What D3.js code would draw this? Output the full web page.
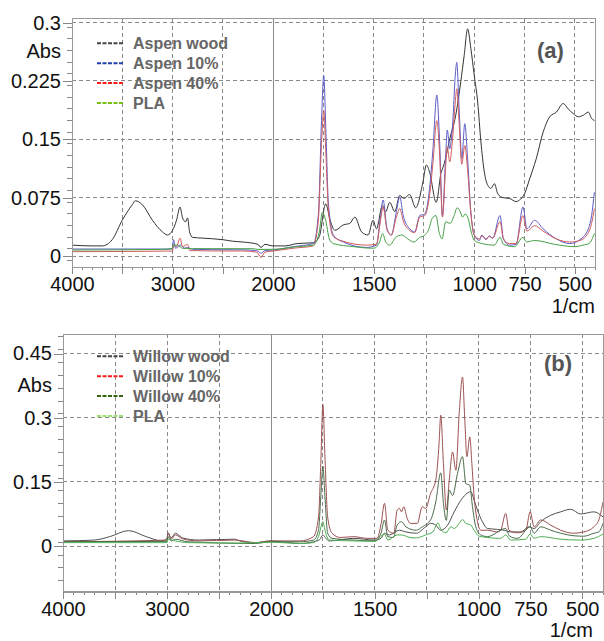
<!DOCTYPE html>
<html>
<head>
<meta charset="utf-8">
<script src="https://cdn.jsdelivr.net/npm/d3@7"></script>
<style>
  body { margin: 0; background: #fff; }
  text { font-family: "Liberation Sans", Arial, sans-serif; }
</style>
</head>
<body>
<script>
// FTIR spectra, [wavenumber (1/cm), absorbance]
var aspenWood = [[4000,0.014],[3800,0.013],[3700,0.013],[3600,0.021],[3500,0.046],[3400,0.066],[3370,0.071],[3300,0.066],[3200,0.046],[3100,0.031],[3050,0.027],[3000,0.033],[2960,0.046],[2925,0.063],[2900,0.049],[2870,0.044],[2850,0.049],[2830,0.031],[2800,0.024],[2700,0.023],[2500,0.021],[2400,0.019],[2300,0.018],[2150,0.015],[2120,0.011],[2080,0.015],[2000,0.013],[1940,0.013],[1880,0.016],[1800,0.017],[1770,0.025],[1738,0.067],[1715,0.045],[1692,0.033],[1651,0.040],[1618,0.042],[1593,0.050],[1560,0.031],[1527,0.027],[1503,0.046],[1486,0.035],[1456,0.065],[1440,0.057],[1420,0.069],[1395,0.057],[1370,0.078],[1350,0.074],[1321,0.079],[1291,0.062],[1255,0.095],[1238,0.117],[1222,0.108],[1189,0.069],[1164,0.108],[1158,0.112],[1140,0.128],[1125,0.147],[1092,0.181],[1067,0.224],[1050,0.258],[1033,0.292],[1017,0.267],[1000,0.232],[983,0.198],[967,0.147],[950,0.108],[933,0.091],[917,0.087],[900,0.093],[883,0.080],[858,0.075],[825,0.074],[792,0.070],[775,0.072],[750,0.080],[725,0.099],[692,0.125],[658,0.159],[625,0.179],[592,0.185],[558,0.196],[533,0.189],[508,0.183],[483,0.179],[458,0.181],[433,0.185],[417,0.177],[403,0.174]];
var aspen10 = [[4000,0.009],[3100,0.009],[3000,0.009],[2990,0.021],[2970,0.010],[2920,0.014],[2880,0.010],[2850,0.011],[2800,0.0086],[2400,0.008],[2300,0.008],[2150,0.0064],[2120,0.0034],[2080,0.007],[2000,0.0077],[1900,0.012],[1800,0.016],[1775,0.052],[1758,0.181],[1748,0.232],[1737,0.159],[1725,0.069],[1700,0.027],[1651,0.018],[1535,0.011],[1486,0.014],[1469,0.044],[1453,0.072],[1433,0.035],[1412,0.027],[1387,0.057],[1370,0.076],[1353,0.052],[1321,0.035],[1296,0.031],[1271,0.052],[1246,0.054],[1222,0.087],[1205,0.138],[1186,0.207],[1172,0.147],[1158,0.052],[1142,0.129],[1134,0.162],[1122,0.138],[1108,0.168],[1092,0.240],[1087,0.249],[1075,0.189],[1062,0.125],[1047,0.170],[1033,0.125],[1017,0.057],[1000,0.027],[975,0.020],[962,0.027],[942,0.021],[925,0.026],[908,0.023],[872,0.052],[855,0.022],[825,0.014],[792,0.015],[758,0.063],[738,0.035],[700,0.046],[658,0.035],[592,0.022],[525,0.016],[475,0.021],[433,0.035],[417,0.052],[403,0.082]];
var aspen40 = [[4000,0.0056],[3000,0.0064],[2990,0.014],[2960,0.012],[2925,0.023],[2900,0.012],[2850,0.015],[2830,0.007],[2400,0.0064],[2300,0.0064],[2160,0.005],[2120,-0.0017],[2080,0.005],[2000,0.0064],[1900,0.010],[1800,0.013],[1775,0.045],[1758,0.150],[1748,0.187],[1737,0.130],[1725,0.060],[1700,0.025],[1651,0.019],[1535,0.014],[1486,0.015],[1469,0.040],[1453,0.063],[1433,0.033],[1412,0.027],[1387,0.050],[1370,0.061],[1353,0.045],[1321,0.033],[1296,0.030],[1271,0.050],[1246,0.052],[1222,0.078],[1205,0.120],[1186,0.174],[1172,0.130],[1158,0.050],[1142,0.115],[1134,0.140],[1122,0.121],[1108,0.150],[1092,0.205],[1087,0.215],[1075,0.170],[1062,0.118],[1047,0.142],[1033,0.110],[1017,0.055],[1000,0.027],[975,0.022],[962,0.026],[942,0.022],[925,0.025],[908,0.023],[872,0.044],[855,0.022],[825,0.016],[792,0.016],[758,0.052],[738,0.032],[700,0.039],[658,0.032],[592,0.022],[525,0.018],[475,0.020],[433,0.030],[417,0.042],[403,0.061]];
var plaA = [[4000,0.0077],[3100,0.0085],[3000,0.0099],[2995,0.014],[2950,0.014],[2900,0.010],[2800,0.0095],[2300,0.0094],[2200,0.0094],[2150,0.0085],[2000,0.0086],[1880,0.012],[1800,0.014],[1770,0.031],[1755,0.056],[1740,0.048],[1720,0.022],[1700,0.016],[1600,0.012],[1500,0.010],[1470,0.018],[1455,0.029],[1440,0.018],[1420,0.014],[1390,0.024],[1360,0.027],[1330,0.022],[1300,0.018],[1270,0.024],[1250,0.026],[1225,0.035],[1210,0.048],[1190,0.052],[1175,0.031],[1160,0.022],[1142,0.044],[1120,0.042],[1100,0.052],[1085,0.062],[1070,0.057],[1058,0.050],[1045,0.054],[1030,0.048],[1015,0.031],[1000,0.020],[960,0.016],[900,0.014],[872,0.024],[855,0.015],[800,0.012],[758,0.024],[740,0.018],[700,0.020],[600,0.015],[500,0.012],[460,0.014],[430,0.016],[403,0.029]];

var willowWood = [[4000,0.012],[3700,0.014],[3550,0.022],[3370,0.036],[3200,0.022],[3050,0.012],[3000,0.018],[2990,0.031],[2960,0.019],[2920,0.030],[2850,0.019],[2700,0.014],[2350,0.016],[2300,0.012],[2150,0.008],[2000,0.012],[1860,0.006],[1795,0.010],[1765,0.015],[1750,0.026],[1735,0.018],[1720,0.012],[1600,0.018],[1500,0.014],[1470,0.018],[1453,0.030],[1430,0.026],[1381,0.037],[1350,0.033],[1300,0.030],[1255,0.045],[1231,0.053],[1206,0.049],[1182,0.037],[1150,0.048],[1117,0.080],[1085,0.107],[1037,0.127],[1021,0.107],[1005,0.084],[981,0.057],[957,0.041],[909,0.039],[877,0.037],[845,0.033],[797,0.033],[756,0.045],[732,0.041],[700,0.057],[652,0.072],[604,0.080],[556,0.086],[508,0.075],[444,0.080],[400,0.068]];
var willow10 = [[4000,0.010],[3000,0.014],[2990,0.030],[2960,0.016],[2920,0.026],[2850,0.017],[2700,0.012],[2350,0.014],[2150,0.008],[2000,0.012],[1860,0.012],[1795,0.022],[1771,0.068],[1760,0.193],[1750,0.331],[1740,0.209],[1727,0.068],[1706,0.030],[1666,0.020],[1602,0.022],[1537,0.018],[1489,0.018],[1469,0.053],[1453,0.100],[1437,0.037],[1408,0.030],[1392,0.084],[1381,0.088],[1371,0.080],[1360,0.092],[1344,0.065],[1327,0.053],[1295,0.053],[1271,0.092],[1255,0.088],[1231,0.123],[1206,0.154],[1190,0.240],[1182,0.306],[1169,0.193],[1155,0.084],[1141,0.154],[1125,0.220],[1109,0.177],[1093,0.310],[1077,0.395],[1066,0.294],[1056,0.209],[1042,0.255],[1032,0.193],[1021,0.115],[1005,0.057],[989,0.037],[957,0.037],[909,0.033],[893,0.037],[869,0.076],[853,0.037],[812,0.031],[772,0.037],[751,0.080],[732,0.045],[700,0.061],[652,0.049],[604,0.037],[540,0.030],[492,0.033],[444,0.045],[420,0.061],[400,0.103]];
var willow40 = [[4000,0.010],[3000,0.011],[2990,0.022],[2960,0.012],[2920,0.016],[2800,0.010],[2150,0.006],[2000,0.010],[1860,0.010],[1795,0.014],[1771,0.037],[1760,0.115],[1750,0.187],[1740,0.115],[1727,0.030],[1706,0.018],[1600,0.014],[1500,0.012],[1470,0.030],[1453,0.061],[1437,0.022],[1410,0.020],[1392,0.049],[1371,0.057],[1350,0.045],[1300,0.037],[1271,0.045],[1231,0.061],[1206,0.103],[1182,0.171],[1169,0.100],[1155,0.060],[1141,0.131],[1125,0.118],[1101,0.170],[1077,0.209],[1061,0.146],[1042,0.142],[1029,0.092],[1013,0.045],[989,0.026],[957,0.022],[869,0.041],[850,0.023],[812,0.018],[751,0.045],[732,0.030],[700,0.045],[652,0.037],[604,0.030],[540,0.024],[492,0.023],[444,0.030],[420,0.033],[400,0.053]];
var plaB = [[4000,0.008],[3000,0.008],[2990,0.016],[2920,0.012],[2800,0.008],[2300,0.007],[2000,0.009],[1860,0.006],[1795,0.008],[1771,0.022],[1750,0.057],[1740,0.037],[1720,0.014],[1600,0.012],[1500,0.011],[1453,0.028],[1437,0.014],[1392,0.026],[1371,0.026],[1330,0.020],[1300,0.019],[1255,0.026],[1220,0.033],[1195,0.054],[1181,0.039],[1157,0.031],[1133,0.045],[1117,0.041],[1093,0.053],[1077,0.062],[1061,0.053],[1037,0.049],[1021,0.037],[997,0.023],[957,0.020],[893,0.018],[869,0.026],[845,0.014],[772,0.016],[751,0.028],[732,0.018],[700,0.022],[604,0.016],[508,0.014],[444,0.018],[400,0.028]];

// axis ticks
var xLabelTicks = [4000, 3000, 2000, 1500, 1000, 750, 500];
var xGridTicks = [3500, 3000, 2500, 1750, 1500, 1250, 1000, 750, 500];
var yTicksA = [0, 0.075, 0.15, 0.225, 0.3];
var yTicksB = [0, 0.15, 0.3, 0.45];

var svg = d3.select("body").append("svg")
    .attr("width", 604)
    .attr("height", 641);

var gridColor = "#8a8a8a";

function drawPanel(p) {
    var x = d3.scaleLinear().domain([4000, 2000, 400]).range([p.left, p.mid, p.right]);
    var y = d3.scaleLinear().domain(p.yDomain).range([p.bottom, p.top]);
    var g = svg.append("g");

    // dashed grid
    g.selectAll("line.hgrid").data(p.yTicks).enter().append("line")
        .attr("x1", p.left).attr("x2", p.right)
        .attr("y1", function (d) { return y(d); })
        .attr("y2", function (d) { return y(d); })
        .attr("stroke", gridColor).attr("stroke-dasharray", "4,3")
        .attr("shape-rendering", "crispEdges");
    g.selectAll("line.vgrid").data(xGridTicks).enter().append("line")
        .attr("x1", function (d) { return x(d); })
        .attr("x2", function (d) { return x(d); })
        .attr("y1", p.top).attr("y2", p.bottom)
        .attr("stroke", gridColor).attr("stroke-dasharray", "4,3")
        .attr("shape-rendering", "crispEdges");
    // solid line where the x scale changes
    g.append("line")
        .attr("x1", x(2000)).attr("x2", x(2000))
        .attr("y1", p.top).attr("y2", p.bottom)
        .attr("stroke", "#8a8a8a")
        .attr("shape-rendering", "crispEdges");

    // spectra
    var line = d3.line()
        .curve(d3.curveMonotoneX)
        .x(function (d) { return x(d[0]); })
        .y(function (d) { return y(d[1]); });
    g.selectAll("path.spec").data(p.series).enter().append("path")
        .attr("d", function (d) { return line(d.values); })
        .attr("fill", "none")
        .attr("stroke", function (d) { return d.color; })
        .attr("stroke-width", 1);

    // frame
    g.append("rect")
        .attr("x", p.left).attr("y", p.top)
        .attr("width", p.right - p.left).attr("height", p.bottom - p.top)
        .attr("fill", "none").attr("stroke", "#999")
        .attr("shape-rendering", "crispEdges");

    // x axis: minor then major
    var minorX = d3.range(4000, 2000, -100).concat(d3.range(2000, 399, -50));
    var ax = g.append("g").attr("transform", "translate(0," + p.bottom + ")");
    ax.call(d3.axisBottom(x).tickValues(minorX).tickSize(3).tickSizeOuter(0).tickFormat(""));
    var ax2 = g.append("g").attr("transform", "translate(0," + p.bottom + ")");
    ax2.call(d3.axisBottom(x).tickValues([4000, 3500, 3000, 2500, 2000, 1750, 1500, 1250, 1000, 750, 500])
        .tickSize(7).tickSizeOuter(0).tickPadding(3)
        .tickFormat(function (d) { return xLabelTicks.indexOf(d) >= 0 ? d : ""; }));

    // y axis: minor then major
    var minorY = d3.range(-0.2, 0.5001, p.yMinor).filter(function (d) {
        return y(d) <= p.bottom && y(d) >= p.top;
    });
    var ay = g.append("g").attr("transform", "translate(" + p.left + ",0)");
    ay.call(d3.axisLeft(y).tickValues(minorY).tickSize(5).tickSizeOuter(0).tickFormat(""));
    var ay2 = g.append("g").attr("transform", "translate(" + p.left + ",0)");
    ay2.call(d3.axisLeft(y).tickValues(p.yTicks).tickSize(9).tickSizeOuter(0).tickPadding(2)
        .tickFormat(function (d) { return d === 0 ? "0" : String(d); }));

    g.selectAll(".domain").attr("stroke", "#999").attr("shape-rendering", "crispEdges");
    g.selectAll(".tick line").attr("stroke", "#888").attr("shape-rendering", "crispEdges");
    g.selectAll(".tick text")
        .attr("font-size", 20)
        .attr("fill", "#111")
        .attr("font-family", "Liberation Sans, Arial, sans-serif");

    // axis titles
    g.append("text")
        .attr("x", p.left - 11)
        .attr("y", y(p.absAt))
        .attr("dy", "0.32em")
        .attr("text-anchor", "end")
        .attr("font-size", 20)
        .attr("fill", "#111")
        .text("Abs");
    g.append("text")
        .attr("x", p.unitX)
        .attr("y", p.bottom + 45.5)
        .attr("text-anchor", "end")
        .attr("font-size", 20)
        .attr("fill", "#111")
        .text("1/cm");

    // panel tag
    g.append("text")
        .attr("x", p.tagX)
        .attr("y", p.tagY)
        .attr("font-size", 22)
        .attr("font-weight", "bold")
        .attr("fill", "#555")
        .text(p.tag);

    // legend
    var leg = g.append("g").attr("transform", "translate(97," + p.legendY + ")");
    var rows = leg.selectAll("g").data(p.series).enter().append("g")
        .attr("transform", function (d, i) { return "translate(0," + (i * 19.9) + ")"; });
    rows.append("line")
        .attr("x1", 0).attr("x2", 26)
        .attr("stroke", function (d) { return d.legendColor; })
        .attr("stroke-width", 2)
        .attr("stroke-dasharray", "4,1.5");
    rows.append("text")
        .attr("x", 36)
        .attr("dy", "0.36em")
        .attr("font-size", 16)
        .attr("font-weight", "bold")
        .attr("fill", "#666")
        .text(function (d) { return d.label; });
}

drawPanel({
    left: 72, mid: 273, right: 595, top: 18.5, bottom: 267.3,
    yDomain: [-0.0145, 0.3053], yTicks: yTicksA, yMinor: 0.015, absAt: 0.2625,
    unitX: 595, tag: "(a)", tagX: 537, tagY: 58, legendY: 43.3,
    series: [
        { label: "Aspen wood", values: aspenWood, color: "#333333", legendColor: "#444444" },
        { label: "Aspen 10%", values: aspen10, color: "#5c5cc8", legendColor: "#1f3faa" },
        { label: "Aspen 40%", values: aspen40, color: "#d05c5c", legendColor: "#ff1a1a" },
        { label: "PLA", values: plaA, color: "#45a045", legendColor: "#77c010" }
    ]
});

drawPanel({
    left: 63, mid: 271, right: 603, top: 334.3, bottom: 591.7,
    yDomain: [-0.1067, 0.495], yTicks: yTicksB, yMinor: 0.03, absAt: 0.375,
    unitX: 593, tag: "(b)", tagX: 544, tagY: 371, legendY: 356.3,
    series: [
        { label: "Willow wood", values: willowWood, color: "#505050", legendColor: "#444444" },
        { label: "Willow 10%", values: willow10, color: "#9c5050", legendColor: "#ff1a1a" },
        { label: "Willow 40%", values: willow40, color: "#4a6a4a", legendColor: "#336611" },
        { label: "PLA", values: plaB, color: "#4caf50", legendColor: "#a0e070" }
    ]
});
</script>
</body>
</html>
